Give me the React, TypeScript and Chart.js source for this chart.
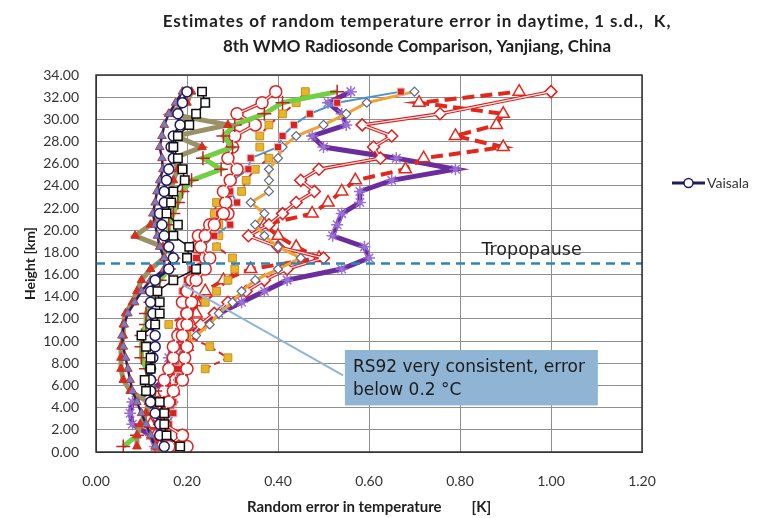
import React, { useEffect, useRef } from 'react';
import { Chart, registerables } from 'chart.js';
Chart.register(...registerables);

const TITLE_LINES = [
  'Estimates of random temperature error in daytime, 1 s.d.,  K,',
  '8th WMO Radiosonde Comparison, Yanjiang, China',
];
const X_TITLE = 'Random error in temperature \u2003\u2003 [K]';
const Y_TITLE = 'Height [km]';
const LEGEND_LABEL = 'Vaisala';
const TROPO_LABEL = 'Tropopause';
const NOTE_LINES = ['RS92 very consistent, error', 'below 0.2 °C'];

const X_TICKS = [0, 0.2, 0.4, 0.6, 0.8, 1.0, 1.2];
const Y_TICKS = [0, 2, 4, 6, 8, 10, 12, 14, 16, 18, 20, 22, 24, 26, 28, 30, 32, 34];

const HEIGHTS = [0.5, 1.5, 2.5, 3.5, 4.5, 5.5, 6.5, 7.5, 8.5, 9.5, 10.5, 11.5, 12.5, 13.5, 14.5, 15.5, 16.5,
  17.5, 18.5, 19.5, 20.5, 21.5, 22.5, 23.5, 24.5, 25.5, 26.5, 27.5, 28.5, 29.5, 30.5, 31.5, 32.5];

const RS92_SQUARES = [0.185, 0.155, 0.15, 0.15, 0.14, 0.11, 0.107, 0.12, 0.12, 0.11, 0.10, 0.13, 0.14, 0.14, 0.135, 0.17, 0.22,
  0.20, 0.205, 0.17, 0.18, 0.155, 0.165, 0.17, 0.195, 0.19, 0.18, 0.17, 0.18, 0.205, 0.22, 0.24, 0.233];
const VAISALA = [0.15, 0.14, 0.14, 0.13, 0.12, 0.12, 0.12, 0.12, 0.125, 0.13, 0.13, 0.12, 0.125, 0.12, 0.12, 0.13, 0.16,
  0.17, 0.16, 0.15, 0.145, 0.14, 0.15, 0.15, 0.155, 0.16, 0.17, 0.165, 0.17, 0.185, 0.18, 0.19, 0.2];
const NAVY_TRI = [0.13, 0.12, 0.11, 0.10, 0.09, 0.08, 0.075, 0.07, 0.065, 0.06, 0.057, 0.062, 0.07, 0.085, 0.10, 0.12, 0.15,
  0.15, 0.14, 0.135, 0.13, 0.125, 0.13, 0.134, 0.14, 0.147, 0.145, 0.14, 0.145, 0.15, 0.16, 0.175, 0.19];
const KHAKI_TRI = [0.09, 0.09, 0.097, 0.11, 0.115, 0.075, 0.06, 0.055, 0.055, 0.055, 0.06, 0.06, 0.065, 0.08, 0.09, 0.10, 0.12,
  0.15, 0.147, 0.086, 0.12, 0.15, 0.16, 0.165, 0.17, 0.18, 0.17, 0.233, 0.175, 0.29, 0.16, 0.20, 0.21];
const GREEN_PLUS = [0.06, 0.09, 0.10, 0.11, 0.12, 0.13, 0.12, 0.11, 0.10, 0.10, 0.10, 0.11, 0.11, 0.12, 0.13, 0.14, 0.16,
  0.17, 0.155, 0.16, 0.16, 0.17, 0.18, 0.19, 0.21, 0.275, 0.235, 0.30, 0.28, 0.305, 0.37, 0.41, 0.53];
const RED_CIRCLE_LOW = [0.16, 0.19, 0.15, 0.15, 0.16, 0.17, 0.19, 0.2, 0.195, 0.2, 0.19, 0.2, 0.2, 0.21, 0.2, 0.22, 0.24,
  0.25, 0.23, 0.24, 0.26, 0.28, null, null, null, null, null, null, null, null, null, null, null];
const RED_CIRCLE = [0.2, 0.17, 0.15, 0.14, 0.14, 0.15, 0.15, 0.16, 0.17, 0.17, 0.18, 0.19, 0.2, 0.19, 0.2, 0.21, 0.23,
  0.24, 0.22, 0.225, 0.25, 0.29, 0.285, 0.28, 0.295, 0.31, 0.29, 0.30, 0.305, 0.35, 0.31, 0.365, 0.395];
const BLUE_SQUARE = [0.15, 0.16, 0.16, 0.17, 0.17, 0.17, 0.18, 0.18, 0.18, 0.19, 0.19, 0.2, 0.2, 0.21, 0.19, 0.2, 0.21,
  0.22, 0.235, 0.26, 0.295, 0.27, 0.31, 0.295, 0.30, 0.335, 0.34, 0.40, 0.41, 0.435, 0.47, 0.53, 0.67];
const GOLD_STAR = [null, null, null, null, null, null, null, 0.24, 0.29, 0.25, 0.2, 0.16, 0.2, 0.24, 0.265, 0.29, 0.305,
  0.30, 0.265, 0.27, 0.27, 0.26, 0.265, 0.32, 0.33, 0.35, 0.38, 0.36, 0.36, 0.38, 0.41, 0.44, 0.46];
const ORANGE_DIAMOND = [0.16, 0.15, 0.15, 0.16, 0.17, 0.17, 0.18, 0.18, 0.19, 0.2, 0.22, 0.25, 0.27, 0.30, 0.32, 0.35, 0.40,
  0.45, 0.40, 0.37, 0.35, 0.37, 0.34, 0.38, 0.38, 0.38, 0.40, 0.41, 0.44, 0.50, 0.55, 0.595, 0.70];
const RED_DIAMOND = [0.17, 0.15, 0.14, 0.14, 0.15, 0.16, 0.17, 0.18, 0.19, 0.2, 0.21, 0.23, 0.26, 0.29, 0.33, 0.37, 0.42,
  0.50, 0.40, 0.335, 0.38, 0.41, 0.44, 0.48, 0.45, 0.49, 0.625, 0.61, 0.65, 0.585, 0.756, null, 1.0];
const RED_DASH_TRI = [0.14, 0.13, 0.12, 0.14, 0.16, 0.17, 0.18, 0.18, 0.19, 0.2, 0.2, 0.21, 0.22, 0.22, 0.24, 0.28, 0.34,
  0.49, 0.44, 0.40, 0.37, 0.475, 0.51, 0.54, 0.57, 0.68, 0.72, 0.895, 0.79, 0.88, 0.895, 0.71, 0.93];
const PURPLE_STAR = [0.13, 0.12, 0.08, 0.075, 0.08, 0.12, 0.15, 0.16, 0.16, 0.17, 0.20, 0.24, 0.27, 0.32, 0.37, 0.42, 0.54,
  0.60, 0.59, 0.52, 0.53, 0.54, 0.58, 0.58, 0.65, 0.79, 0.66, 0.50, 0.475, 0.55, 0.54, 0.51, 0.56];

const TROPOPAUSE_HEIGHT = 17;
const CALLOUT_FROM = { x: 0.19, y: 15.1 };
const CALLOUT_TO = { x: 0.543, y: 6.9 };
const NOTE_BOX = { x0: 0.547, x1: 1.103, y0: 9.2, y1: 4.2 };

const FONT = 'Lato, "DejaVu Sans", sans-serif';
const NOTE_FONT = '"DejaVu Sans", sans-serif';

function pts(vals: (number | null)[]) {
  const out: { x: number; y: number }[] = [];
  vals.forEach((v, i) => {
    if (v !== null && v !== undefined) out.push({ x: v, y: HEIGHTS[i] });
  });
  return out;
}

export default function App() {
  const ref = useRef<HTMLCanvasElement>(null);
  useEffect(() => {
    document.body.style.margin = '0';
    const canvas = ref.current;
    if (!canvas) return;

    const overlay = (vals: (number | null)[]) => ({
      data: pts(vals), showLine: true, borderColor: 'rgba(255,255,255,0.95)', borderWidth: 1.2,
      pointRadius: 0, label: '_overlay',
    });

    const datasets: any[] = [
      { label: '_tropo', data: [{ x: 0, y: TROPOPAUSE_HEIGHT }, { x: 1.2, y: TROPOPAUSE_HEIGHT }], showLine: true,
        borderColor: '#2b86b8', borderWidth: 2.5, borderDash: [9, 6], pointRadius: 0 },
      { label: '_callout', data: [CALLOUT_FROM, CALLOUT_TO], showLine: true, borderColor: '#8fb5d5', borderWidth: 2, pointRadius: 0 },
      { label: 'RS92', data: pts(RS92_SQUARES), showLine: true, borderColor: '#111', borderWidth: 1.5,
        pointStyle: 'rect', pointRadius: 6, pointBackgroundColor: '#fff', pointBorderColor: '#111', pointBorderWidth: 1.5 },
      { label: LEGEND_LABEL, data: pts(VAISALA), showLine: true, borderColor: '#211c5f', borderWidth: 3,
        pointStyle: 'circle', pointRadius: 5, pointBackgroundColor: '#fff', pointBorderColor: '#211c5f', pointBorderWidth: 1.5 },
      { label: 'navy', data: pts(NAVY_TRI), showLine: true, borderColor: '#25236e', borderWidth: 2.5,
        pointStyle: 'triangle', pointRadius: 5, pointBackgroundColor: '#5f86cf', pointBorderColor: '#c8342c', pointBorderWidth: 1 },
      { label: 'khaki', data: pts(KHAKI_TRI), showLine: true, borderColor: '#9a9266', borderWidth: 5,
        pointStyle: 'triangle', pointRadius: 5, pointBackgroundColor: '#d4301f', pointBorderColor: '#d4301f', pointBorderWidth: 1 },
      { label: 'green', data: pts(GREEN_PLUS), showLine: true, borderColor: '#72cf44', borderWidth: 5,
        pointStyle: 'cross', pointRadius: 7, pointBorderColor: '#c81e2c', pointBorderWidth: 1.5 },
      overlay(RED_CIRCLE_LOW),
      { label: 'redlow', data: pts(RED_CIRCLE_LOW), showLine: true, borderColor: '#e02222', borderWidth: 3.5,
        pointStyle: 'circle', pointRadius: 6, pointBackgroundColor: '#fff', pointBorderColor: '#e02222', pointBorderWidth: 1.5 },
      overlay(RED_CIRCLE),
      { label: 'red', data: pts(RED_CIRCLE), showLine: true, borderColor: '#e02222', borderWidth: 3.5,
        pointStyle: 'circle', pointRadius: 6, pointBackgroundColor: '#fff', pointBorderColor: '#e02222', pointBorderWidth: 1.5 },
      { label: 'blue', data: pts(BLUE_SQUARE), showLine: true, borderColor: '#4a92d2', borderWidth: 2,
        pointStyle: 'rect', pointRadius: 5, pointBackgroundColor: '#d42424', pointBorderColor: '#f2b4b4', pointBorderWidth: 1 },
      { label: 'gold', data: pts(GOLD_STAR), showLine: true, borderColor: '#e02222', borderWidth: 2, borderDash: [6, 4],
        pointStyle: 'rect', pointRadius: 5.5, pointBackgroundColor: '#e6b52e', pointBorderColor: '#c98f1f', pointBorderWidth: 1 },
      { label: 'orange', data: pts(ORANGE_DIAMOND), showLine: true, borderColor: '#f2a232', borderWidth: 3,
        pointStyle: 'rectRot', pointRadius: 4.5, pointBackgroundColor: '#fff', pointBorderColor: '#5d6b8c', pointBorderWidth: 1.2 },
      overlay(RED_DIAMOND),
      { label: 'reddiam', data: pts(RED_DIAMOND), showLine: true, borderColor: '#e31c1c', borderWidth: 3.5,
        pointStyle: 'rectRot', pointRadius: 6, pointBackgroundColor: '#fff', pointBorderColor: '#e31c1c', pointBorderWidth: 1.5 },
      { label: 'reddash', data: pts(RED_DASH_TRI), showLine: true, borderColor: '#e2281c', borderWidth: 4, borderDash: [12, 6],
        pointStyle: 'triangle', pointRadius: 7, pointBackgroundColor: '#fff', pointBorderColor: '#e2281c', pointBorderWidth: 1.5 },
      { label: 'purple', data: pts(PURPLE_STAR), showLine: true, borderColor: '#6b2d9e', borderWidth: 5,
        pointStyle: 'star', pointRadius: 6, pointBorderColor: '#9a70d6', pointBorderWidth: 1.5 },
    ];

    const decor = {
      id: 'decor',
      afterDraw(chart: any) {
        const c = chart.ctx;
        const xs = chart.scales.x;
        const ys = chart.scales.y;
        const a = chart.chartArea;
        c.save();
        // plot border
        c.strokeStyle = '#333';
        c.lineWidth = 1.5;
        c.strokeRect(a.left, a.top, a.right - a.left, a.bottom - a.top);
        // title
        c.fillStyle = '#1e1e1e';
        c.font = `bold 17px ${FONT}`;
        c.textAlign = 'center';
        c.textBaseline = 'middle';
        c.letterSpacing = '0.9px';
        c.fillText(TITLE_LINES[0], 417, 22);
        c.letterSpacing = '0px';
        c.fillText(TITLE_LINES[1], 417, 47);
        // tropopause label
        c.font = `17.5px ${NOTE_FONT}`;
        c.fillStyle = '#222';
        c.textAlign = 'left';
        c.fillText(TROPO_LABEL, xs.getPixelForValue(0.847), ys.getPixelForValue(18.2));
        // note box
        const bx0 = xs.getPixelForValue(NOTE_BOX.x0);
        const bx1 = xs.getPixelForValue(NOTE_BOX.x1);
        const by0 = ys.getPixelForValue(NOTE_BOX.y0);
        const by1 = ys.getPixelForValue(NOTE_BOX.y1);
        c.fillStyle = '#8fb4d4';
        c.fillRect(bx0, by0, bx1 - bx0, by1 - by0);
        c.fillStyle = '#1c1c1c';
        c.font = `17px ${NOTE_FONT}`;
        c.fillText(NOTE_LINES[0], bx0 + 8, by0 + 18);
        c.fillText(NOTE_LINES[1], bx0 + 8, by0 + 41);
        // legend
        const ly = 183;
        c.strokeStyle = '#211c5f';
        c.lineWidth = 3;
        c.beginPath();
        c.moveTo(672, ly);
        c.lineTo(705, ly);
        c.stroke();
        c.beginPath();
        c.arc(688.5, ly, 4.5, 0, Math.PI * 2);
        c.fillStyle = '#fff';
        c.fill();
        c.lineWidth = 1.5;
        c.stroke();
        c.fillStyle = '#333';
        c.font = `14px ${FONT}`;
        c.textAlign = 'left';
        c.fillText(LEGEND_LABEL, 707, ly);
        c.restore();
      },
    };

    const chart = new Chart(canvas, {
      type: 'scatter',
      data: { datasets },
      options: {
        animation: false,
        responsive: false,
        layout: { padding: { top: 75, right: 118, left: 0, bottom: 0 } },
        plugins: { legend: { display: false }, tooltip: { enabled: false }, title: { display: false } },
        scales: {
          x: {
            type: 'linear', min: 0, max: 1.2,
            afterBuildTicks: (s: any) => { s.ticks = X_TICKS.map((v) => ({ value: v })); },
            afterFit: (s: any) => { s.height = 66; },
            ticks: { callback: (v: any) => Number(v).toFixed(2), color: '#333', font: { family: FONT, size: 14 }, padding: 21 },
            grid: { color: '#8e8e8e', lineWidth: 1, drawTicks: false },
            border: { color: '#333' },
            title: { display: true, text: X_TITLE, color: '#1e1e1e', font: { family: FONT, size: 15, weight: 'bold' }, padding: { top: 0, bottom: 2 } },
          },
          y: {
            type: 'linear', min: 0, max: 34,
            afterBuildTicks: (s: any) => { s.ticks = Y_TICKS.map((v) => ({ value: v })); },
            afterFit: (s: any) => { s.width = 96; },
            ticks: { callback: (v: any) => Number(v).toFixed(2), color: '#333', font: { family: FONT, size: 14 }, padding: 17 },
            grid: { color: '#8e8e8e', lineWidth: 1, drawTicks: false },
            border: { color: '#333' },
            title: { display: true, text: Y_TITLE, color: '#1e1e1e', font: { family: FONT, size: 14, weight: 'bold' }, padding: { top: 22, bottom: 0 } },
          },
        },
      },
      plugins: [decor],
    } as any);
    return () => chart.destroy();
  }, []);
  return <canvas ref={ref} width={760} height={518} style={{ display: 'block' }} />;
}
